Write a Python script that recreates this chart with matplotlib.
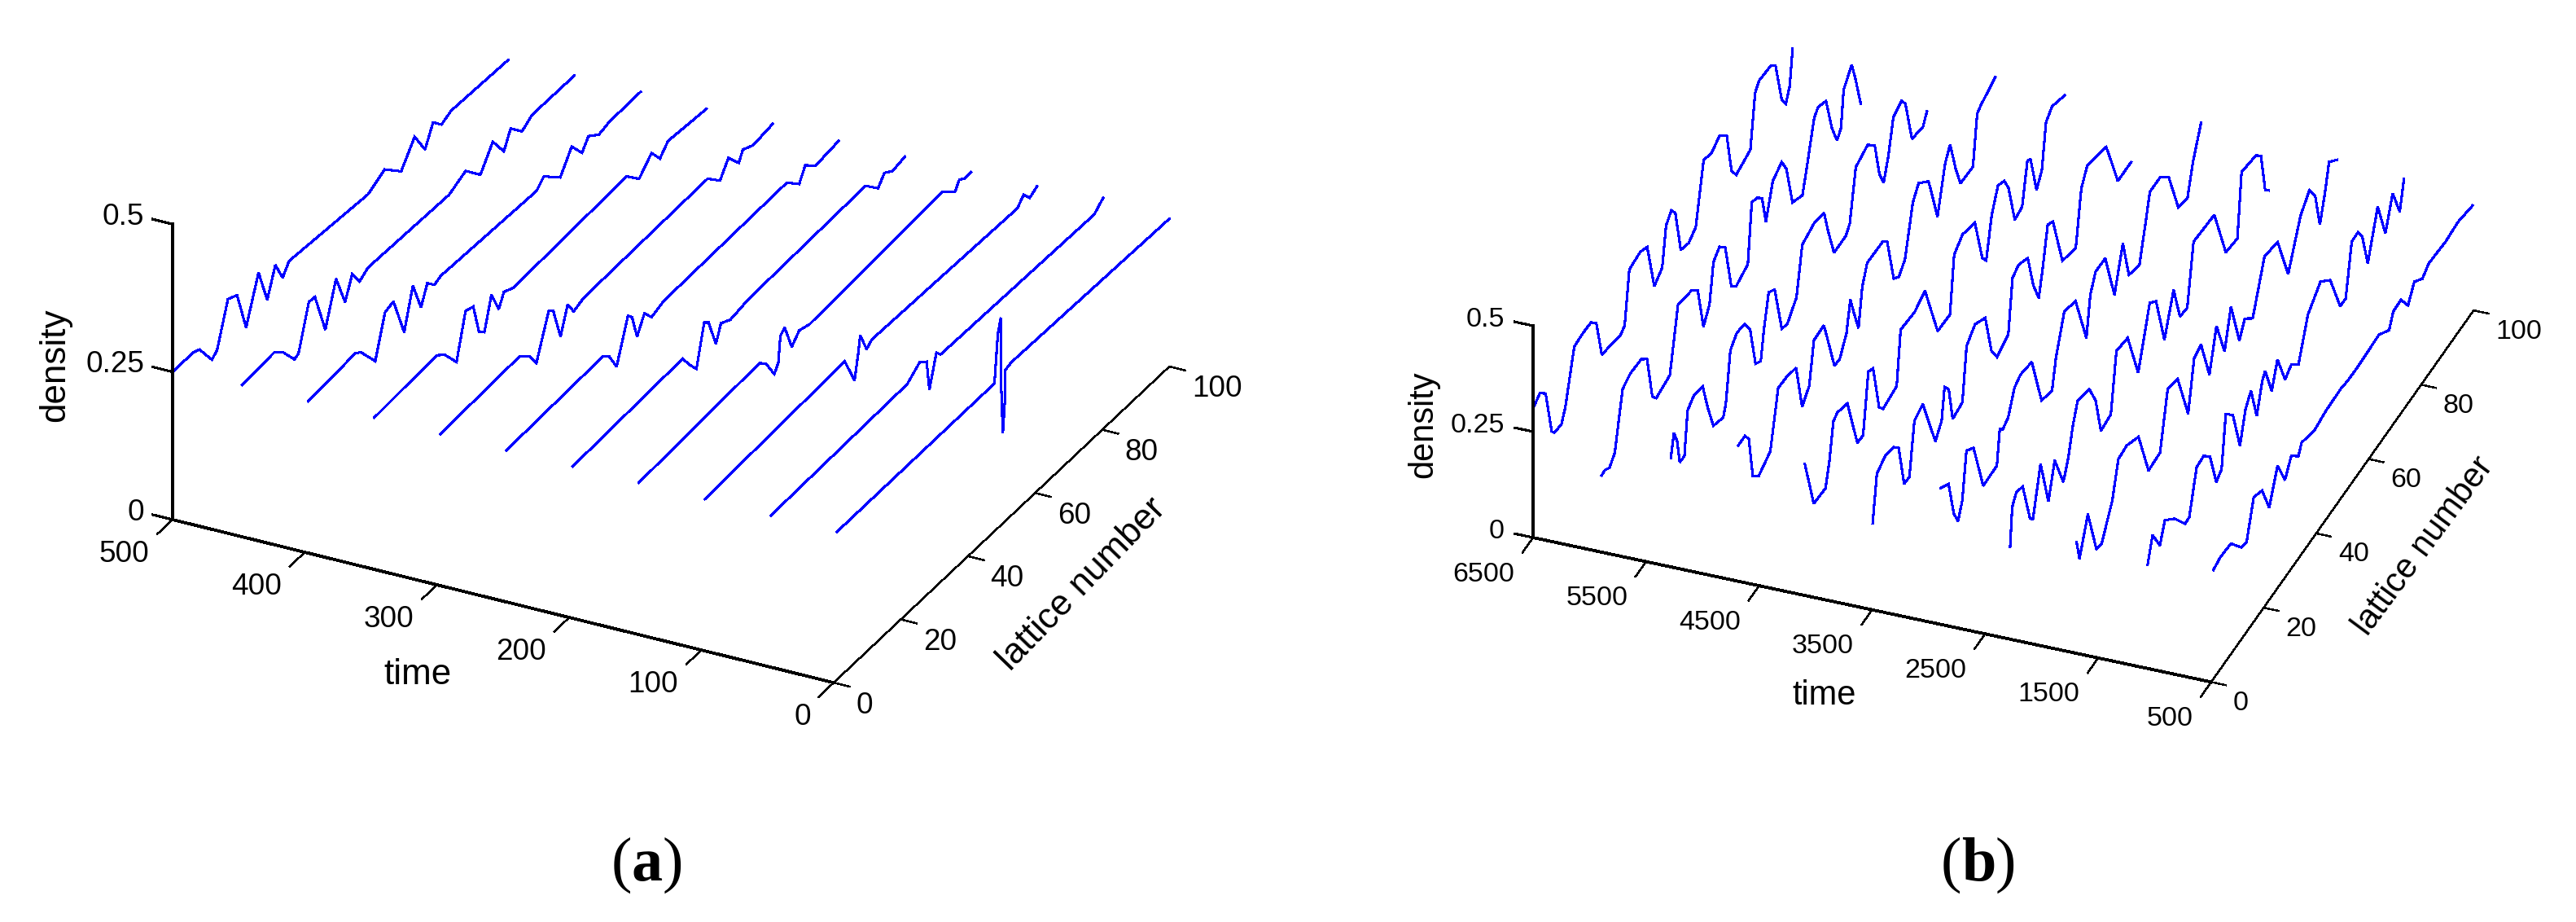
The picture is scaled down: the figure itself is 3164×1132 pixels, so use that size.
import numpy as np
import matplotlib
matplotlib.use('Agg')
from matplotlib import pyplot as plt
from mpl_toolkits.mplot3d import proj3d

plt.rcParams['font.family'] = ['Liberation Sans', 'DejaVu Sans']

W, H = 3164, 1132

# Panel (a)
times_a = [500, 450, 400, 350, 300, 250, 200, 150, 100, 50, 0]
time_ticks_a = [500, 400, 300, 200, 100, 0]
lat_a = [
    [0, 6.2, 8, 11.7, 13.25, 16.5, 19.2, 21.9, 25.6, 28.2, 30.6, 32.8, 34.7, 58.2, 63.2, 68.1, 72.1, 75.2, 77.6, 80.1, 83, 100],
    [1, 10.65, 13.1, 16.6, 17.8, 20.9, 22.7, 25.8, 29, 31.7, 33.8, 36, 38.5, 62.7, 67.6, 72, 75.7, 79, 81, 84.4, 87.4, 100],
    [1, 15.1, 16.7, 21, 23.9, 26.4, 29.6, 32.2, 34.6, 36.5, 38.6, 40.5, 69, 71.2, 76.1, 79.5, 82.6, 84.5, 87.6, 90.7, 100],
    [1, 19.6, 22, 25.5, 28.2, 30.5, 32.2, 33.8, 35.9, 38.1, 39.6, 42.5, 76.2, 79.9, 83.6, 86.1, 88.5, 100],
    [1, 24.6, 27.7, 29.6, 33.3, 34.6, 36.8, 38.9, 40.7, 43.8, 80.6, 84.3, 86.8, 89.9, 91.1, 94.2, 100],
    [1, 29.7, 31.6, 33.8, 37.2, 38.4, 39.9, 42.1, 44.2, 47.9, 84.5, 88.2, 90, 93.1, 100],
    [1, 33.8, 35.7, 37.9, 40.2, 41.5, 43.7, 45.2, 48, 53.6, 88.3, 92, 93.9, 96.3, 100],
    [1, 37, 38.9, 41.4, 42.6, 43.2, 44.5, 46.6, 48.8, 51.9, 91.5, 95.2, 96.5, 98.3, 100],
    [1, 42.7, 45.6, 46.7, 47.3, 49.2, 50.8, 94.1, 96, 97.8, 100],
    [1, 41.6, 45.3, 47.4, 48.2, 50.3, 51.5, 97.3, 100],
    [1, 47.9, 48.9, 49.8, 49.8, 50.4, 51, 51, 52.9, 100],
]
den_a = [
    [.25, .25, .245, .208, .216, .285, .277, .208, .281, .221, .267, .234, .252, .239, .2545, .225, .262, .224, .257, .24, .248, .243],
    [.25, .254, .241, .21, .213, .284, .283, .211, .28, .226, .262, .238, .248, .242, .256, .226, .262, .228, .256, .233, .245, .244],
    [.25, .256, .249, .211, .278, .283, .214, .279, .229, .26, .246, .251, .242, .255, .227, .261, .234, .252, .238, .243, .244],
    [.25, .256, .244, .213, .285, .28, .228, .219, .271, .235, .256, .248, .256, .232, .256, .233, .25, .243],
    [.25, .255, .238, .217, .286, .279, .223, .266, .245, .252, .256, .233, .258, .233, .249, .24, .245],
    [.25, .255, .245, .216, .284, .275, .234, .262, .244, .252, .256, .234, .256, .239, .244],
    [.25, .257, .237, .218, .284, .277, .229, .256, .247, .253, .258, .234, .25, .24, .245],
    [.25, .26, .249, .218, .231, .273, .28, .236, .252, .246, .258, .238, .252, .245, .246],
    [.25, .26, .212, .252, .279, .246, .254, .244, .257, .242, .25],
    [.25, .255, .272, .262, .21, .262, .252, .244, .258],
    [.25, .25, .328, .351, .253, .153, .204, .255, .259, .25],
]

# Panel (b)
times_b = [6500, 5900, 5300, 4700, 4100, 3500, 2900, 2300, 1700, 1100, 500]
time_ticks_b = [6500, 5500, 4500, 3500, 2500, 1500, 500]
lat_b = [
    [.3, 2.6, 4.8, 7.1, 8.1, 10.8, 12.3, 15.7, 19.1, 22.1, 24.1, 26.2, 33.4, 34.9, 36.7, 40.9, 43.5, 46.2, 49.2, 50.7, 52.7, 54.2, 56.3, 59.3, 62, 65, 68, 71, 73.8, 75.6, 77.4, 82.8, 84.6, 86.1, 90.6, 92.4, 94.8, 96.3, 97.8, 98.9],
    [.3, 1.5, 3.3, 5.3, 8.3, 11.3, 15.4, 17.6, 19.6, 21.1, 26.3, 29.4, 34.6, 36.9, 39.1, 41.4, 42.9, 45.2, 47.4, 49.7, 51.5, 56, 57.5, 59.5, 61.4, 62.9, 65.5, 68.9, 70.7, 73, 76.8, 78.3, 81.3, 82.8, 85.8, 88, 90, 91.5, 92.5, 95.6, 97, 99],
    [.8, 2, 3.2, 4.2, 6, 7.2, 9.5, 13, 14.8, 17, 20.8, 21.8, 23.5, 26, 29, 31, 33.1, 35.1, 36.3, 38.1, 40.4, 43.1, 45.2, 48.7, 50.9, 55.4, 59.2, 60.7, 63, 67.5, 69, 71.3, 75.8, 78.5, 80.3, 81.9, 83.7, 85.6, 88.7, 90.2, 92.7, 96.9, 98.4],
    [.6, 3.2, 4.7, 6.2, 8.4, 12.9, 15.9, 19, 22.7, 25, 27.7, 29.5, 33.3, 34.8, 37.3, 39.3, 41.9, 43.4, 44.6, 46.5, 47.9, 49.8, 55.8, 57.4, 59.9, 61.9, 64.2, 67.2, 69.4, 73.2, 76.6, 79.5, 81.4, 83.5, 85.3, 90.1, 91.7, 93.3, 96, 98.6],
    [.2, 1.4, 3.6, 8.1, 9.6, 11.1, 12.6, 16.4, 20.2, 22.4, 24.4, 26.2, 28.5, 30, 35.2, 36.7, 42, 46, 50.8, 55.5, 57.1, 60.3, 65, 67.8, 69.3, 71.4, 73.8, 76.2, 77.8, 80.2, 83, 85, 86.2, 88.5, 90.5, 92.1, 94.4, 99.2],
    [.2, 1.8, 5, 8.2, 10.1, 12.2, 14.2, 16.1, 19.3, 24.1, 26.5, 27.6, 29.2, 30.7, 34.4, 36, 39.2, 43.1, 45.5, 47.6, 51.9, 53.5, 55.8, 59.3, 61.4, 63.5, 65, 66.9, 68.9, 72.5, 77.6, 79.7, 82, 89.2, 92.1, 93.6, 98.7],
    [.3, 3.3, 5.3, 6.9, 8.5, 10.1, 12.8, 16.5, 21.7, 22.8, 23.9, 26, 28.4, 30.7, 35, 38.7, 42.7, 44.2, 47.4, 51.7, 55.8, 57.3, 59.3, 63, 66.5, 69.7, 72, 76, 78.4, 80, 84, 87.2, 90.8, 94.3, 96.4, 99.5],
    [.9, 1.7, 3.3, 5.7, 8.5, 9.6, 12.5, 15.5, 17.9, 21.2, 23.1, 24.7, 26.6, 31.1, 33.5, 35.5, 39.3, 41.4, 45.7, 49.7, 51.7, 54.1, 56.5, 59.7, 63.2, 65.6, 68.4, 70.8, 78.7, 83.1, 87.5, 89.1, 94.6, 96.5, 98.1, 99.4],
    [.4, 1.5, 4.7, 7.9, 9.9, 14, 16.3, 19.5, 24, 27.8, 32.2, 35.1, 38.9, 42.9, 45.2, 47.8, 51, 53.7, 56.8, 59.2, 62.4, 64.5, 67.5, 72, 77, 81, 85.7, 89.1, 91.3, 93.1, 95, 96.6, 99.7],
    [1.6, 3.5, 6.3, 8.2, 11.9, 15.9, 17.5, 20.3, 23, 25.4, 27.8, 29.8, 31.4, 34.1, 36.8, 38.9, 41, 43.2, 45.3, 46.4, 48.9, 51.1, 54, 56.4, 59.1, 62.7, 67.5, 71.2, 75, 77.1, 79.4, 81.8, 83.4, 85.5, 89.3, 92.2, 95, 97.7, 99.3],
    [.8, 3.5, 7.5, 11.4, 13.5, 16.2, 19.4, 22.1, 25.3, 28.1, 30.5, 33.2, 34.5, 39.2, 44, 49.6, 51.9, 55.9, 60.7, 63.9, 67.8, 69.4, 72.3, 75, 77.4, 80.5, 82.9, 89.3, 94, 99.6],
]
den_b = [
    [.306, .318, .298, .188, .177, .172, .2, .313, .316, .314, .295, .202, .186, .194, .311, .316, .304, .188, .205, .292, .31, .291, .185, .175, .189, .321, .311, .325, .302, .203, .177, .189, .307, .323, .319, .303, .201, .179, .208, .286],
    [.178, .18, .17, .188, .312, .323, .32, .301, .195, .178, .187, .326, .314, .294, .189, .221, .308, .324, .303, .191, .175, .188, .321, .314, .297, .228, .301, .316, .284, .185, .168, .214, .312, .324, .312, .229, .182, .198, .28, .311, .266, .19],
    [.249, .297, .269, .209, .208, .305, .319, .31, .247, .183, .169, .194, .304, .324, .318, .288, .188, .177, .241, .313, .299, .183, .176, .208, .313, .324, .315, .26, .188, .188, .204, .317, .33, .306, .222, .187, .234, .309, .321, .301, .196, .188, .211],
    [.314, .314, .294, .193, .173, .193, .316, .314, .304, .192, .217, .309, .311, .263, .181, .178, .217, .284, .244, .189, .273, .314, .312, .298, .188, .175, .196, .304, .33, .301, .188, .288, .316, .241, .19, .187, .298, .307, .315, .324],
    [.308, .265, .185, .182, .235, .314, .321, .309, .183, .181, .314, .306, .194, .177, .185, .305, .30, .315, .178, .176, .303, .323, .309, .202, .182, .271, .32, .31, .279, .183, .189, .28, .273, .181, .209, .309, .326, .31],
    [.202, .305, .32, .312, .294, .19, .189, .305, .316, .186, .214, .284, .264, .181, .188, .307, .33, .311, .211, .179, .195, .314, .325, .31, .228, .179, .236, .322, .312, .188, .173, .295, .33, .31, .233, .191, .191],
    [.319, .302, .214, .183, .217, .321, .304, .182, .184, .261, .25, .26, .309, .32, .312, .189, .176, .241, .323, .309, .186, .275, .312, .311, .194, .287, .193, .181, .262, .319, .319, .29, .188, .178, .245, .311],
    [.209, .296, .317, .309, .209, .198, .303, .188, .264, .184, .225, .282, .328, .316, .268, .179, .185, .316, .309, .192, .249, .318, .301, .182, .269, .185, .181, .316, .31, .183, .177, .32, .311, .293, .198, .186],
    [.258, .21, .287, .177, .171, .237, .315, .319, .3, .187, .191, .315, .306, .189, .3, .309, .21, .301, .214, .299, .19, .224, .198, .305, .295, .184, .28, .311, .279, .195, .252, .312, .29],
    [.228, .282, .233, .276, .247, .2, .202, .295, .298, .275, .194, .207, .323, .297, .201, .268, .294, .215, .279, .293, .224, .279, .206, .221, .197, .283, .319, .29, .195, .195, .309, .31, .286, .204, .305, .216, .286, .219, .283],
    [.257, .264, .261, .218, .212, .294, .282, .218, .289, .23, .266, .242, .263, .249, .257, .259, .255, .254, .257, .259, .236, .266, .268, .231, .266, .246, .261, .256, .261, .251],
]

lat_ticks = [0, 20, 40, 60, 80, 100]
den_ticks = [0, 0.25, 0.5]
den_labels = ['0', '0.25', '0.5']


def to_px(ax, x, y, z):
    xs, ys, _ = proj3d.proj_transform(x, y, z, ax.get_proj())
    return ax.transData.transform((xs, ys))


def panel(times, lats, dens, time_ticks, view, box, corners, tl, fs, label_pos):
    # big square axes, the box is moved into place afterwards
    ax = fig.add_axes([0, 0, 1400 / W, 1400 / H], projection='3d', proj_type='ortho')
    ax.set_axis_off()
    ax.view_init(elev=view[0], azim=view[1])
    t_old, t_new = time_ticks[0], time_ticks[-1]
    ax.set_xlim(t_old, t_new, view_margin=0)
    ax.set_ylim(0, 100, view_margin=0)
    ax.set_zlim(0, 0.5, view_margin=0)
    ax.set_box_aspect(box)

    for t, l, d in zip(times, lats, dens):
        ax.plot(np.full(len(l), t), l, d, color='#0000ff', lw=1.5,
                antialiased=False, clip_on=False, solid_joinstyle='miter')

    black = dict(color='k', antialiased=False, clip_on=False)
    ax.plot([t_old, t_old], [0, 0], [0, 0.5], lw=1.5, **black)
    ax.plot([t_old, t_new], [0, 0], [0, 0], lw=2, **black)
    ax.plot([t_new, t_new], [0, 100], [0, 0], lw=1, **black)

    for z, s in zip(den_ticks, den_labels):
        ax.plot([t_old, t_old + tl[0]], [0, 0], [z, z], lw=1.5, **black)
        ax.text(t_old + tl[1], 0, z, s, ha='right', va='center', fontsize=fs[0])
    for t in time_ticks:
        ax.plot([t, t], [0, -tl[2]], [0, 0], lw=1, **black)
        ax.text(t + tl[3], tl[4], 0, str(t), ha='right', va='center', fontsize=fs[0])
    for l in lat_ticks:
        ax.plot([t_new, t_new - tl[5]], [l, l], [0, 0], lw=1, **black)
        ax.text(t_new + tl[6], l + tl[7], 0, str(l), ha='left', va='center', fontsize=fs[0])

    # a 3d text takes its angle from zdir, not from rotation
    ax.text(*label_pos[0], 'density', zdir='z', ha='center', va='center', fontsize=fs[1])
    ax.text(*label_pos[1], 'time', ha='center', va='center', fontsize=fs[1])
    ax.text(*label_pos[2], 'lattice number', zdir=label_pos[3], ha='center', va='center',
            rotation_mode='anchor', fontsize=fs[1])

    # scale and shift so the front corners land where they are in the figure
    ax.apply_aspect()
    p0 = np.array([corners[0], H - corners[1]], float)
    p1 = np.array([corners[2], H - corners[3]], float)
    a = to_px(ax, t_old, 0, 0)
    b = to_px(ax, t_new, 0, 0)
    ax.set_box_aspect(box, zoom=np.linalg.norm(p1 - p0) / np.linalg.norm(b - a))
    a = to_px(ax, t_old, 0, 0)
    shift = p0 - a
    pos = ax.get_position()
    ax.set_position([pos.x0 + shift[0] / W, pos.y0 + shift[1] / H, pos.width, pos.height])
    return ax


fig = plt.figure(figsize=(W / 100, H / 100), dpi=100, facecolor='white')

panel(times_a, lat_a, den_a, time_ticks_a, (28.8, -62.9), (912, 905, 414),
      (212, 638, 1024, 838),
      (15, 21.5, 4.5, -8, -10, 12, -28, -4.3), (26.6, 31.7),
      ((589, 0, 0.213), (254, -23.8, 0), (-86.5, 40, 0), (0, 1, 0.00052)))
panel(times_b, lat_b, den_b, time_ticks_b, (33.3, -68.8), (893, 891, 311),
      (1883, 660, 2716, 837),
      (160, 252, 4, -58, -9.5, 130, -284, -3.85), (24.5, 30),
      ((7473, 0, 0.212), (3404, -22.45, 0), (-395, 42.3, 0), (0, 1, -0.0004)))

# captions, the letter is bold, the brackets are not
for xc, letter in ((795, 'a'), (2430, 'b')):
    half = 19 if letter == 'a' else 21
    y = 1 - 1081 / H
    fig.text(xc / W, y, letter, family='Liberation Serif', weight='bold', fontsize=55,
             ha='center', va='baseline')
    fig.text((xc - half) / W, y, '(', family='Liberation Serif', fontsize=55, ha='right', va='baseline')
    fig.text((xc + half) / W, y, ')', family='Liberation Serif', fontsize=55, ha='left', va='baseline')

fig.savefig('out.png', dpi=100)
